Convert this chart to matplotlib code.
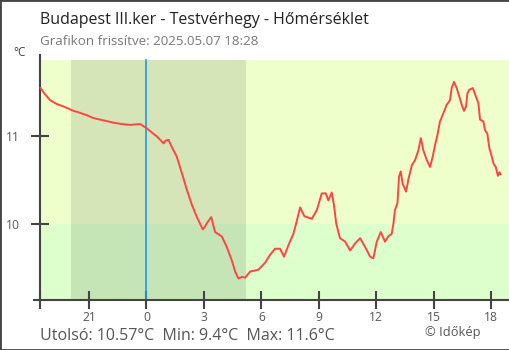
import matplotlib
matplotlib.use("Agg")
import matplotlib.pyplot as plt
from matplotlib.patches import Rectangle

plt.rcParams['font.family'] = ['Open Sans', 'DejaVu Sans']

# hours relative to midnight (negative = previous day), temperature in °C
hours = [-5.53, -5.3, -5.02, -4.7, -4.33, -3.81, -3.5, -3.11, -2.8, -2.42, -2.0, -1.72,
         -1.3, -0.85, -0.33, 0.02, 0.3, 0.54, 0.89, 1.0, 1.15, 1.32, 1.58, 1.85, 2.11,
         2.37, 2.63, 2.94, 3.05, 3.15, 3.38, 3.58, 3.93, 4.19, 4.45, 4.63, 4.80, 5.0,
         5.15, 5.41, 5.84, 6.19, 6.45, 6.71, 6.97, 7.18, 7.41, 7.67, 7.85, 8.02, 8.24,
         8.63, 8.89, 9.15, 9.36, 9.49, 9.67, 9.79, 9.90, 10.10, 10.37, 10.63, 10.89,
         11.15, 11.41, 11.67, 11.84, 12.02, 12.23, 12.45, 12.62, 12.80, 12.89, 12.97,
         13.10, 13.18, 13.27, 13.37, 13.55, 13.67, 13.85, 14.02, 14.19, 14.32, 14.45,
         14.63, 14.80, 14.94, 15.06, 15.18, 15.32, 15.49, 15.67, 15.84, 15.93, 16.05,
         16.19, 16.33, 16.45, 16.57, 16.68, 16.75, 16.85, 17.03, 17.20, 17.32, 17.41,
         17.58, 17.67, 17.79, 17.90, 18.02, 18.11, 18.23, 18.34, 18.42, 18.47]
temps = [11.55, 11.48, 11.41, 11.37, 11.34, 11.29, 11.27, 11.24, 11.21, 11.19, 11.17, 11.155,
         11.14, 11.13, 11.14, 11.09, 11.04, 11.0, 10.92, 10.95, 10.96, 10.88, 10.77, 10.58, 10.39,
         10.22, 10.08, 9.94, 9.97, 10.01, 10.08, 9.91, 9.86, 9.74, 9.59, 9.46, 9.38, 9.40,
         9.39, 9.46, 9.48, 9.56, 9.65, 9.72, 9.72, 9.63, 9.76, 9.89, 10.04, 10.19, 10.09,
         10.06, 10.16, 10.35, 10.35, 10.27, 10.36, 10.21, 10.01, 9.84, 9.80, 9.70, 9.78,
         9.84, 9.74, 9.63, 9.61, 9.80, 9.91, 9.80, 9.86, 9.89, 10.01, 10.16,
         10.24, 10.54, 10.60, 10.46, 10.37, 10.51, 10.67, 10.73, 10.84, 10.98, 10.84,
         10.73, 10.65, 10.77, 10.90, 11.01, 11.17, 11.26, 11.36, 11.41, 11.55, 11.62,
         11.55, 11.45, 11.36, 11.29, 11.34, 11.49, 11.53, 11.55, 11.45, 11.38, 11.19,
         11.17, 11.07, 11.03, 10.86, 10.77, 10.69, 10.65, 10.55, 10.59, 10.57]

xticks = [-3, 0, 3, 6, 9, 12, 15, 18]
xticklabels = ['21', '0', '3', '6', '9', '12', '15', '18']
yticks = [10, 11]

title = 'Budapest III.ker - Testvérhegy - Hőmérséklet'
subtitle = 'Grafikon frissítve: 2025.05.07 18:28'
summary = 'Utolsó: 10.57°C  Min: 9.4°C  Max: 11.6°C'

W, H = 510, 350
fig = plt.figure(figsize=(W / 100, H / 100), dpi=100)


def px(x, y):
    return x / W, 1 - y / H


# axes from x=34..509 px, y=55..300 px
ax = fig.add_axes([34 / W, 50 / H, 475 / W, 245 / H])
x_start, x_end = -5.53, 18.92
x_left = x_start - 6.5 / 19.17
y_lo, y_hi, y_bg_top = 9.136, 11.926, 11.869
ax.set_xlim(x_left, x_end)
ax.set_ylim(y_lo, y_hi)

# backgrounds
ax.add_patch(Rectangle((x_start, 10), x_end - x_start, y_bg_top - 10, color='#eeffcc', lw=0, zorder=0))
ax.add_patch(Rectangle((x_start, y_lo), x_end - x_start, 10 - y_lo, color='#ddffcc', lw=0, zorder=0))
# night
sunset, sunrise = -3.93, 5.2
ax.add_patch(Rectangle((sunset, y_lo), sunrise - sunset, y_bg_top - y_lo, color='black', alpha=0.1, lw=0, zorder=1))
ax.plot([0, 0], [y_lo, y_bg_top], color='#2299ee', lw=1.2, zorder=2)

ax.plot(hours, temps, color='#ff4444', lw=1.4, zorder=3)

for s in ['top', 'right']:
    ax.spines[s].set_visible(False)
ax.spines['left'].set_position(('data', x_start))
for s in ['left', 'bottom']:
    ax.spines[s].set_color('#444444')
    ax.spines[s].set_linewidth(1.5)

ax.set_xticks(xticks)
ax.set_xticklabels(xticklabels)
ax.set_xticks([x_start], minor=True)
ax.set_yticks(yticks)
ax.tick_params(axis='both', which='both', direction='inout', length=13, width=1.5,
               color='#444444', labelcolor='#555555', labelsize=8.7)
ax.tick_params(axis='x', pad=1.5)
ax.tick_params(axis='y', pad=8)

fig.text(*px(40, 23.5), title, fontsize=11.5, color='#222222', va='baseline', ha='left')
fig.text(*px(40, 45), subtitle, fontsize=9.6, color='#777777', va='baseline', ha='left')
fig.text(*px(13, 56.5), '°C', fontsize=8.5, color='#444444', va='baseline', ha='left')
fig.text(*px(40, 339.5), summary, fontsize=11.5, color='#555555', va='baseline', ha='left')
fig.text(*px(453, 336), '© Időkép', fontsize=9.3, color='#555555', va='baseline', ha='center')

fig.patches.append(Rectangle((0, 0), 1, 1, transform=fig.transFigure, fill=False,
                             edgecolor='#444444', lw=2))

fig.savefig('out.png', dpi=100)
